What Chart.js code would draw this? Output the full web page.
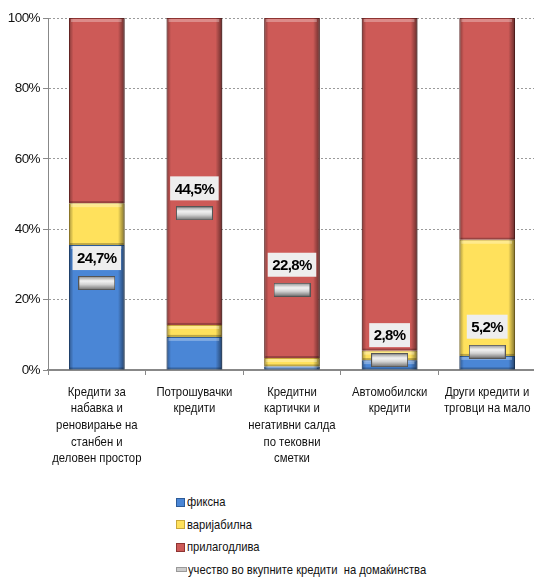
<!DOCTYPE html>
<html>
<head>
<meta charset="utf-8">
<script src="https://cdn.jsdelivr.net/npm/chart.js@4"></script>
<style>
    body { margin: 0; background: #fff; width: 534px; height: 577px; overflow: hidden; position: relative; }
    #wrap { position: absolute; left: 0; top: 0; width: 544px; height: 480px; }
    #legend { position: absolute; left: 176px; top: 491px; font-family: "Liberation Sans", Arial, sans-serif; font-size: 13.5px; color: #111; white-space: nowrap; }
    #legend div { height: 22.5px; line-height: 18px; display: flex; align-items: center; }
    #legend span.box { display: inline-block; width: 7px; height: 7px; margin-right: 2px; border: 1px solid; }
    #legend span.dash { display: inline-block; width: 9px; height: 3px; margin-right: 1px; background: #ccc; border: 1px solid #999; }
    #legend span.txt { display: inline-block; transform: scaleX(0.83); transform-origin: left center; white-space: pre; }
</style>
</head>
<body>
<div id="wrap"><canvas id="chart"></canvas></div>
<div id="legend"></div>
<script>
const categories = [
    ['Кредити за', 'набавка и', 'реновирање на', 'станбен и', 'деловен простор'],
    ['Потрошувачки', 'кредити'],
    ['Кредитни', 'картички и', 'негативни салда', 'по тековни', 'сметки'],
    ['Автомобилски', 'кредити'],
    ['Други кредити и', 'трговци на мало']
];
const fixedRate = [35.5, 9.4, 1.0, 2.8, 4.0];
const variableRate = [11.9, 3.4, 2.4, 2.7, 33.0];
const adjustableRate = [52.6, 87.2, 96.6, 94.5, 63.0];
const householdShare = [24.7, 44.5, 22.8, 2.8, 5.2];
const seriesNames = ['фиксна', 'варијабилна', 'прилагодлива', 'учество во вкупните кредити  на домаќинства'];

const FONT = '"Liberation Sans", Arial, sans-serif';

// grey bevelled marker used for the share series
function makeMarker() {
    const c = document.createElement('canvas');
    c.width = 37; c.height = 14;
    const g = c.getContext('2d');
    const grad = g.createLinearGradient(0, 0, 0, 14);
    grad.addColorStop(0, '#8a8a8a');
    grad.addColorStop(0.35, '#f4f4f4');
    grad.addColorStop(0.6, '#d4d4d4');
    grad.addColorStop(1, '#6a6a6a');
    g.fillStyle = grad;
    g.fillRect(0, 0, 37, 14);
    g.strokeStyle = '#555';
    g.lineWidth = 1;
    g.strokeRect(0.5, 0.5, 36, 13);
    return c;
}
const marker = makeMarker();

// narrower text, closer to the original condensed font
const tightText = {
    id: 'tightText',
    beforeDraw(chart) {
        chart.ctx.letterSpacing = '-0.6px';
    }
};

// category labels, drawn condensed under each bar
const categoryLabels = {
    id: 'categoryLabels',
    afterDraw(chart) {
        const xs = chart.scales.x;
        const ctx = chart.ctx;
        ctx.save();
        ctx.letterSpacing = '0px';
        ctx.font = '13.5px ' + FONT;
        ctx.fillStyle = '#111';
        ctx.textAlign = 'center';
        ctx.textBaseline = 'middle';
        categories.forEach((lines, i) => {
            const x = xs.getPixelForValue(i);
            lines.forEach((line, k) => {
                ctx.save();
                ctx.translate(x, xs.top + 22 + k * 16.6);
                ctx.scale(0.84, 1);
                ctx.fillText(line, 0, 0);
                ctx.restore();
            });
        });
        ctx.restore();
    }
};

// bevel shading on the bar segments
const bevel = {
    id: 'bevel',
    afterDatasetDraw(chart, args) {
        if (args.meta.type !== 'bar') return;
        const ctx = chart.ctx;
        ctx.save();
        args.meta.data.forEach(el => {
            const left = el.x - el.width / 2;
            const top = Math.min(el.y, el.base);
            const h = Math.abs(el.base - el.y);
            if (h < 1) return;
            const g = ctx.createLinearGradient(left, 0, left + el.width, 0);
            g.addColorStop(0, 'rgba(0,0,0,0.35)');
            g.addColorStop(0.08, 'rgba(0,0,0,0)');
            g.addColorStop(0.88, 'rgba(0,0,0,0)');
            g.addColorStop(1, 'rgba(0,0,0,0.5)');
            ctx.fillStyle = g;
            ctx.fillRect(left, top, el.width, h);
            ctx.fillStyle = 'rgba(255,255,255,0.3)';
            ctx.fillRect(left + 2, top + 1, el.width - 5, Math.min(3, h / 2));
            ctx.fillStyle = 'rgba(0,0,0,0.25)';
            ctx.fillRect(left + 1, top + h - Math.min(2, h / 2), el.width - 2, Math.min(2, h / 2));
        });
        ctx.restore();
    }
};

// value boxes above the markers
const shareLabels = {
    id: 'shareLabels',
    afterDatasetsDraw(chart) {
        const meta = chart.getDatasetMeta(3);
        const ctx = chart.ctx;
        ctx.save();
        ctx.font = 'bold 15px ' + FONT;
        ctx.textAlign = 'center';
        ctx.textBaseline = 'middle';
        meta.data.forEach((pt, i) => {
            const text = householdShare[i].toFixed(1).replace('.', ',') + '%';
            const w = ctx.measureText(text).width + 9;
            const cy = pt.y - 25;
            ctx.fillStyle = '#eeeeee';
            ctx.fillRect(pt.x - w / 2, cy - 12, w, 24);
            ctx.fillStyle = '#000';
            ctx.fillText(text, pt.x, cy + 1);
        });
        ctx.restore();
    }
};

function barSet(label, data, fill, edge) {
    return {
        type: 'bar',
        label: label,
        data: data,
        backgroundColor: fill,
        borderColor: edge,
        borderWidth: 1,
        stack: 'rates',
        order: 1,
        barPercentage: 0.57,
        categoryPercentage: 1
    };
}

const chart = new Chart(document.getElementById('chart'), {
    data: {
        labels: categories.map(c => c.join(' ')),
        datasets: [
            barSet(seriesNames[0], fixedRate, '#4a86d6', '#2d5b98'),
            barSet(seriesNames[1], variableRate, '#ffe15c', '#c9a83a'),
            barSet(seriesNames[2], adjustableRate, '#cd5a57', '#8e3432'),
            {
                type: 'line',
                label: seriesNames[3],
                data: householdShare,
                showLine: false,
                stack: 'share',
                order: 0,
                pointStyle: marker,
                pointRadius: 7
            }
        ]
    },
    options: {
        responsive: true,
        maintainAspectRatio: false,
        animation: false,
        layout: { padding: { top: 18, right: 0, left: 0, bottom: 0 } },
        plugins: {
            legend: { display: false },
            tooltip: { enabled: false }
        },
        scales: {
            x: {
                stacked: true,
                offset: true,
                afterFit: s => { s.height = 110; s.paddingLeft = 0; s.paddingRight = 0; },
                border: { color: '#888', width: 2 },
                grid: { offset: true, drawOnChartArea: false, drawTicks: true, tickLength: 5, color: '#888' },
                ticks: { display: false }
            },
            y: {
                stacked: true,
                min: 0,
                max: 100,
                afterFit: s => { s.width = 48; },
                border: { color: '#888', dash: [2, 2] },
                grid: { color: '#9a9a9a', tickLength: 5, tickColor: '#888' },
                ticks: { stepSize: 20, color: '#111', font: { family: FONT, size: 13.5 }, padding: 3, callback: v => v + '%' }
            }
        }
    },
    plugins: [tightText, bevel, shareLabels, categoryLabels]
});

// legend as a vertical list below the chart
const legendColors = [['#4a86d6', '#2d5b98'], ['#ffe15c', '#c9a83a'], ['#cd5a57', '#8e3432']];
const legendEl = document.getElementById('legend');
seriesNames.forEach((name, i) => {
    const row = document.createElement('div');
    const swatch = i < 3
        ? `<span class="box" style="background:${legendColors[i][0]};border-color:${legendColors[i][1]}"></span>`
        : `<span class="dash"></span>`;
    row.innerHTML = `${swatch}<span class="txt">${name}</span>`;
    legendEl.appendChild(row);
});
</script>
</body>
</html>
